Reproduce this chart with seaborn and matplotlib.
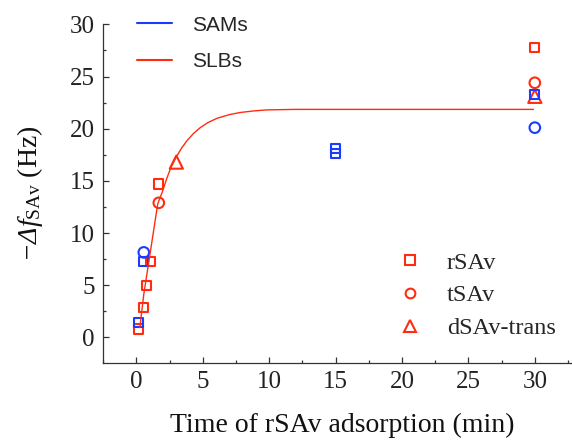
import numpy as np
import pandas as pd
import matplotlib
matplotlib.use("Agg")
import matplotlib.pyplot as plt
from matplotlib.lines import Line2D
from matplotlib.ticker import MultipleLocator
import seaborn as sns

# ---------------- data ----------------
time = [0.17, 0.5, 0.75, 1.05, 1.68, 30.0, 1.68, 30.0, 3.0, 30.0,
        0.17, 0.5, 15.0, 15.0, 30.0, 0.55, 30.0]
shift = [0.8, 2.85, 5.0, 7.25, 14.7, 27.8, 12.9, 24.4, 16.8, 23.1,
         1.45, 7.25, 18.1, 17.6, 23.3, 8.15, 20.1]
substrate = ['SLBs'] * 10 + ['SAMs'] * 7
protein = (['rSAv'] * 6 + ['tSAv'] * 2 + ['dSAv-trans'] * 2 +
           ['rSAv'] * 5 + ['tSAv'] * 2)

curve_x = [0.25, 0.55, 1.0, 1.6, 1.93, 2.3, 2.6, 3.0, 3.4, 3.8, 4.3, 4.8,
           5.4, 6.07, 7.0, 7.8, 8.8, 9.8, 12.0, 29.9]
curve_y = [0.94, 4.15, 7.84, 12.8, 13.9, 15.3, 16.3, 17.3, 18.15, 18.85, 19.55,
           20.1, 20.6, 21.0, 21.35, 21.55, 21.7, 21.8, 21.85, 21.85]

xticks = [0, 5, 10, 15, 20, 25, 30]
yticks = [0, 5, 10, 15, 20, 25, 30]

RED = '#FF2D0F'
BLUE = '#1A3CFF'

# ---------------- style ----------------
sns.set_theme(style="ticks")
plt.rcParams['font.family'] = ['Liberation Serif', 'DejaVu Serif']
plt.rcParams['mathtext.fontset'] = 'custom'
plt.rcParams['mathtext.rm'] = 'Liberation Serif:italic'
plt.rcParams['mathtext.it'] = 'Liberation Serif:italic'
plt.rcParams['mathtext.sf'] = 'Liberation Serif'

fig = plt.figure(figsize=(5.72, 4.43), dpi=100)
ax = fig.add_axes([0.1806, 0.1817, 0.8194, 0.7634])

df = pd.DataFrame({'time': time, 'shift': shift,
                   'substrate': substrate, 'protein': protein})

sns.lineplot(x=curve_x, y=curve_y, sort=False, color=RED, lw=1.0, ax=ax)

markers = {'rSAv': 's', 'tSAv': 'o', 'dSAv-trans': '^'}
sns.scatterplot(data=df, x='time', y='shift', hue='substrate', style='protein',
                palette={'SLBs': RED, 'SAMs': BLUE}, markers=markers,
                legend=False, ax=ax, s=50)
coll = ax.collections[-1]
fc = coll.get_facecolors()
coll.set_edgecolors(fc)
coll.set_facecolors('none')
coll.set_linewidths(1.5)
size_map = {'rSAv': 44, 'tSAv': 58, 'dSAv-trans': 90}
coll.set_sizes([size_map[p] for p in protein])

ax.set_xlim(-2.5, 32.8)
ax.set_ylim(-2.4, 30)
ax.set_xticks(xticks)
ax.set_yticks(yticks)
ax.xaxis.set_minor_locator(MultipleLocator(2.5))
ax.yaxis.set_minor_locator(MultipleLocator(2.5))
ax.tick_params(which='major', direction='in', length=4, width=0.9,
               color='#333333', labelsize=18, labelcolor='#222222')
ax.tick_params(axis='x', which='major', pad=6)
ax.tick_params(axis='y', which='major', pad=6)
ax.tick_params(which='minor', direction='in', length=2.2, width=0.9,
               color='#333333')
for side in ['top', 'right']:
    ax.spines[side].set_visible(False)
for side in ['left', 'bottom']:
    ax.spines[side].set_linewidth(0.9)
    ax.spines[side].set_color('#333333')

ax.set_xlabel('Time of rSAv adsorption (min)', fontsize=20, color='#111111')
ax.set_ylabel(r'$-\Delta f_{\mathsf{SAv}}$ (Hz)', fontsize=20, color='#111111')
ax.xaxis.set_label_coords(0.51, -0.15)
ax.yaxis.set_label_coords(-0.125, 0.5)

# substrate legend (colour key)
h1 = [Line2D([], [], color=BLUE, lw=1.5), Line2D([], [], color=RED, lw=1.5)]
leg1 = ax.legend(h1, ['SAMs', 'SLBs'], loc='upper left',
                 bbox_to_anchor=(0.239, 0.965), bbox_transform=fig.transFigure,
                 frameon=False, borderpad=0, borderaxespad=0,
                 handlelength=1.68, handletextpad=1.0, labelspacing=0.84,
                 prop={'family': 'Liberation Sans', 'size': 15})
ax.add_artist(leg1)

# protein legend (marker key)
h2 = [Line2D([], [], ls='none', marker='s', mfc='none', mec=RED, mew=1.5, ms=6.5),
      Line2D([], [], ls='none', marker='o', mfc='none', mec=RED, mew=1.5, ms=7),
      Line2D([], [], ls='none', marker='^', mfc='none', mec=RED, mew=1.5, ms=8.5)]
ax.legend(h2, ['rSAv', 'tSAv', 'dSAv-trans'], loc='upper left',
          bbox_to_anchor=(0.696, 0.432), bbox_transform=fig.transFigure,
          frameon=False, borderpad=0, borderaxespad=0,
          handlelength=1.0, handletextpad=1.0, labelspacing=0.44,
          prop={'family': 'Liberation Serif', 'size': 17.5})

fig.savefig('out.png', dpi=100)
